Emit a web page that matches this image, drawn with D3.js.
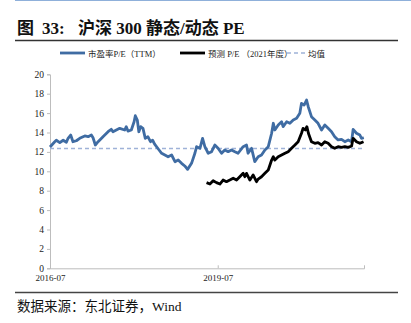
<!DOCTYPE html>
<html>
<head>
<meta charset="utf-8">
<script src="https://cdn.jsdelivr.net/npm/d3@7"></script>
<style>
  html, body { margin: 0; padding: 0; background: #fff; }
  svg { display: block; }
</style>
</head>
<body>
<svg id="chart" width="411" height="323"></svg>
<script>
// CSI 300 trailing P/E (TTM)
const ttmDates = [
  "2016-07-01","2016-08-01","2016-08-11","2016-09-03","2016-09-25","2016-10-16","2016-10-27","2016-11-13",
  "2016-11-28","2016-12-20","2017-01-11","2017-02-13","2017-03-07","2017-03-28","2017-04-08","2017-04-23",
  "2017-05-11","2017-06-12","2017-07-15","2017-08-05","2017-08-16","2017-09-07","2017-09-29","2017-11-01",
  "2017-11-11","2017-11-22","2017-12-14","2018-01-01","2018-01-09","2018-01-22","2018-02-01","2018-02-13",
  "2018-02-28","2018-03-15","2018-04-01","2018-04-18","2018-05-02","2018-05-15","2018-06-08","2018-06-30",
  "2018-07-21","2018-08-11","2018-09-03","2018-09-25","2018-10-16","2018-11-07","2018-11-28","2018-12-16",
  "2019-01-11","2019-02-02","2019-02-13","2019-03-07","2019-03-24","2019-04-08","2019-04-30","2019-05-22",
  "2019-06-12","2019-07-03","2019-07-26","2019-08-16","2019-09-07","2019-09-29","2019-10-21","2019-11-11",
  "2019-12-14","2020-01-05","2020-01-15","2020-02-07","2020-02-28","2020-03-21","2020-04-12","2020-05-04",
  "2020-05-26","2020-06-17","2020-06-28","2020-07-08","2020-07-30","2020-08-21","2020-08-31","2020-09-23",
  "2020-10-14","2020-11-05","2020-11-27","2020-12-18","2020-12-29","2021-01-15","2021-01-31","2021-02-11",
  "2021-03-04","2021-03-26","2021-04-16","2021-05-09","2021-05-30","2021-06-21","2021-07-13","2021-08-03",
  "2021-08-25","2021-09-16","2021-10-08","2021-10-30","2021-11-21","2021-12-01","2021-12-23","2022-01-14",
  "2022-01-25","2022-02-09"
];
const ttmValues = [
  12.5, 13.05, 13.2, 12.95, 13.2, 12.99, 13.4, 13.74,
  13.05, 13.15, 13.4, 13.64, 13.57, 13.74, 13.46, 12.71,
  13.05, 13.57, 14.08, 14.33, 14.08, 14.26, 14.43, 14.26,
  14.6, 14.15, 14.26, 15.11, 15.73, 15.29, 14.08, 14.6,
  14.43, 13.4, 13.57, 13.05, 13.2, 12.8, 12.3, 11.86,
  11.68, 11.5, 11.68, 10.99, 11.16, 10.82, 10.55, 10.2,
  10.82, 11.86, 12.54, 12.37, 13.4, 12.54, 11.86, 12.02,
  12.71, 12.37, 11.86, 12.2, 12.02, 12.2, 12.02, 11.86,
  12.54, 12.71, 11.86, 12.37, 10.99, 11.5, 11.68, 12.2,
  12.54, 13.92, 14.95, 14.26, 14.77, 15.11, 14.6, 15.11,
  14.95, 15.29, 15.46, 15.98, 17.01, 16.83, 17.35, 16.66,
  15.63, 15.29, 14.95, 14.26, 14.77, 14.43, 14.08, 13.57,
  13.23, 13.3, 13.05, 13.23, 13.05, 14.33, 13.92, 13.74,
  13.4, 13.46
];

// CSI 300 forward P/E (2021E)
const fwdDates = [
  "2019-04-19","2019-05-11","2019-06-01","2019-06-23","2019-07-15","2019-08-05","2019-08-27","2019-09-18",
  "2019-10-10","2019-11-01","2019-11-22","2019-12-14","2019-12-25","2020-01-05","2020-01-27","2020-02-17",
  "2020-03-10","2020-03-21","2020-04-12","2020-05-04","2020-05-26","2020-06-06","2020-06-17","2020-06-28",
  "2020-07-08","2020-07-30","2020-08-21","2020-09-12","2020-10-03","2020-10-25","2020-11-16","2020-12-07",
  "2020-12-29","2021-01-08","2021-01-23","2021-02-02","2021-02-12","2021-03-04","2021-03-26","2021-04-16",
  "2021-05-09","2021-05-30","2021-06-21","2021-07-13","2021-08-03","2021-08-25","2021-09-16","2021-10-08",
  "2021-10-30","2021-11-21","2021-12-01","2021-12-23","2022-01-14","2022-02-07"
];
const fwdValues = [
  8.83, 8.69, 9.03, 8.83, 8.69, 9.1, 8.93, 9.1,
  9.28, 9.1, 9.44, 9.79, 9.44, 9.79, 9.1, 9.62,
  8.93, 9.2, 9.44, 9.79, 10.13, 10.65, 11.16, 11.5,
  11.16, 11.5, 11.68, 11.86, 12.02, 12.37, 12.71, 13.05,
  13.92, 14.43, 14.26, 14.6, 13.92, 13.05, 12.89, 12.95,
  12.71, 13.05, 12.89, 12.54, 12.37, 12.54, 12.47, 12.54,
  12.47, 12.61, 13.4, 13.05, 12.89, 13.05
];

const meanValue = 12.35;
const yTicks = [0, 2, 4, 6, 8, 10, 12, 14, 16, 18, 20];
const xTickLabels = ["2016-07", "2019-07"];
const legendLabels = ["市盈率P/E（TTM）", "预测 P/E （2021年度）", "均值"];
const titleParts = ["图", "33:", "沪深 300 静态/动态 PE"];
const sourceText = "数据来源：东北证券，Wind";

const parse = d3.timeParse("%Y-%m-%d");
const parseMonth = d3.timeParse("%Y-%m");
const ttm = ttmDates.map((d, i) => ({ date: parse(d), value: ttmValues[i] }));
const fwd = fwdDates.map((d, i) => ({ date: parse(d), value: fwdValues[i] }));

const svg = d3.select("#chart");
const serif = "'Liberation Serif', 'Times New Roman', 'Noto Sans CJK SC', serif";
const blue = "#3f6ca3";

// page frame: top rule, title, title rule, bottom rule, source
svg.append("line").attr("x1", 15).attr("x2", 411).attr("y1", 0.5).attr("y2", 0.5)
  .attr("stroke", "#8fb0da").attr("stroke-width", 1);
const titleX = [17, 42, 78];
titleParts.forEach((t, i) => {
  svg.append("text").attr("x", titleX[i]).attr("y", 34)
    .attr("font-family", serif).attr("font-weight", "bold").attr("font-size", 17)
    .attr("fill", "#111").text(t);
});
svg.append("line").attr("x1", 15).attr("x2", 398).attr("y1", 40.5).attr("y2", 40.5)
  .attr("stroke", "#333").attr("stroke-width", 1.5);
svg.append("line").attr("x1", 15).attr("x2", 398).attr("y1", 292.5).attr("y2", 292.5)
  .attr("stroke", "#444").attr("stroke-width", 1.5);
svg.append("text").attr("x", 17).attr("y", 311)
  .attr("font-family", serif).attr("font-size", 13.5).attr("fill", "#111").text(sourceText);

// scales
const x = d3.scaleTime()
  .domain([parse("2016-07-01"), parse("2022-02-10")])
  .range([50, 364]);
const y = d3.scaleLinear().domain([0, 20]).range([268.3, 74.3]);

// axes
const yAxis = svg.append("g").attr("transform", "translate(50,0)")
  .call(d3.axisLeft(y).tickValues(yTicks).tickSize(3).tickPadding(3));
const xAxis = svg.append("g").attr("transform", "translate(0,268.3)")
  .call(d3.axisBottom(x).tickValues(xTickLabels.map(parseMonth))
    .tickFormat(d3.timeFormat("%Y-%m")).tickSize(-3).tickPadding(6));
[yAxis, xAxis].forEach(g => {
  g.selectAll("path, line").attr("stroke", "#bdbdbd");
  g.selectAll("text").attr("font-family", serif).attr("font-size", 9.5).attr("fill", "#222");
});
xAxis.selectAll("text").attr("font-size", 9);

// mean line
svg.append("line")
  .attr("x1", x.range()[0]).attr("x2", x.range()[1])
  .attr("y1", y(meanValue)).attr("y2", y(meanValue))
  .attr("stroke", "#9fb2d8").attr("stroke-width", 1.3).attr("stroke-dasharray", "4,3");

const line = d3.line().x(d => x(d.date)).y(d => y(d.value)).curve(d3.curveLinear);
svg.append("path").datum(ttm).attr("d", line)
  .attr("fill", "none").attr("stroke", blue).attr("stroke-width", 2.8).attr("stroke-linejoin", "round");
svg.append("path").datum(fwd).attr("d", line)
  .attr("fill", "none").attr("stroke", "#000").attr("stroke-width", 2.8).attr("stroke-linejoin", "round");

// legend
const legend = [
  { x: 60, label: legendLabels[0], color: blue, width: 2.8, dash: null },
  { x: 180, label: legendLabels[1], color: "#000", width: 2.8, dash: null },
  { x: 280, label: legendLabels[2], color: "#9fb2d8", width: 1.3, dash: "4,3" }
];
const lg = svg.append("g");
legend.forEach(l => {
  lg.append("line").attr("x1", l.x).attr("x2", l.x + 25).attr("y1", 53).attr("y2", 53)
    .attr("stroke", l.color).attr("stroke-width", l.width).attr("stroke-dasharray", l.dash);
  lg.append("text").attr("x", l.x + 28).attr("y", 56.5)
    .attr("font-family", serif).attr("font-size", 8.5).attr("fill", "#222").text(l.label);
});
</script>
</body>
</html>
